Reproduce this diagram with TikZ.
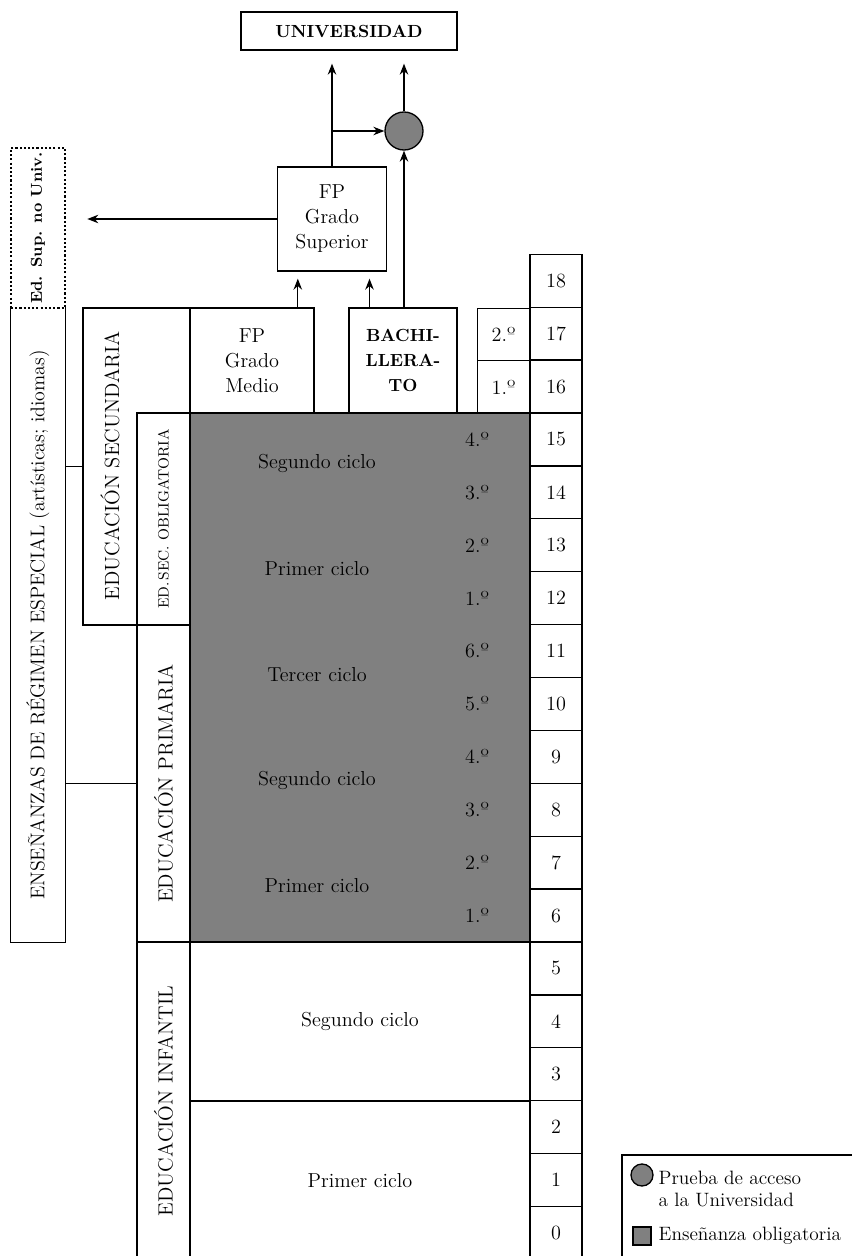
\documentclass[tikz,border=0pt]{standalone}
\usepackage{tikz}
\usetikzlibrary{arrows.meta,positioning,calc}

\begin{document}
\begin{tikzpicture}[x=0.2mm,y=-0.2mm,line width=0.75pt]
        \tikzstyle{every node}=[font=\fontsize{11.5}{14.2}\selectfont]
        \tikzstyle{box}=[draw,inner sep=0pt,align=center]
        \tikzstyle{caps}=[font=\fontsize{11.7}{14}\selectfont]
        \tikzstyle{heavy}=[font=\bfseries\fontsize{10}{14.2}\selectfont]
        \tikzstyle{arr}=[-{Stealth[length=2.2mm,width=1.7mm]}]
        \useasboundingbox (0,0) rectangle (851,1256);

        %%% Universidad
        \node[box,heavy,minimum width=43.2mm,minimum height=7.6mm] (univ) at (349,31) {UNIVERSIDAD};
        \node[circle,draw,fill=gray,minimum size=7.6mm,inner sep=0pt] (prueba) at (404,131) {};
        \node[box,minimum width=21.8mm,minimum height=20.8mm] (fpgs) at (332,219) {FP\\Grado\\Superior};

        %%% Left column
        \node[box,dash pattern=on 1.2pt off 1.2pt,minimum width=10.8mm,minimum height=32mm,font=\bfseries\fontsize{9}{12}\selectfont] (edsup) at (38,228) {\rotatebox{90}{Ed. Sup. no Univ.}};
        \node[inner sep=0pt,font=\fontsize{11.3}{14}\selectfont,minimum width=10.8mm,minimum height=126.8mm] (ense) at (38,625) {\rotatebox{90}{ENSEÑANZAS DE RÉGIMEN ESPECIAL (artísticas; idiomas)}};
        \draw (ense.north west) -- (ense.south west) -- (ense.south east) -- (ense.north east);

        \node[box,minimum width=21.4mm,minimum height=63.4mm] (secu) at (136.5,466.5) {};
        \node[inner sep=0pt,caps] (secutxt) at (110,466) {\rotatebox{90}{EDUCACIÓN SECUNDARIA}};
        \node[box,minimum width=10.6mm,minimum height=42.4mm,font=\fontsize{8.5}{10}\selectfont] (eso) at (163.5,519) {\rotatebox{90}{ED.\,SEC. OBLIGATORIA}};
        \node[box,caps,minimum width=10.6mm,minimum height=63.4mm] (prim) at (163.5,783.5) {\rotatebox{90}{EDUCACIÓN PRIMARIA}};
        \node[box,caps,minimum width=10.6mm,minimum height=63.6mm] (infa) at (163.5,1101) {\rotatebox{90}{EDUCACIÓN INFANTIL}};

        %%% Compulsory block
        \node[box,fill=gray,minimum width=68mm,minimum height=105.8mm] (oblig) at (360,677.5) {};
        \node (esoc2) at (317,463) {Segundo ciclo};
        \node (esoc1) at (317,569) {Primer ciclo};
        \node (primc3) at (317,675) {Tercer ciclo};
        \node (primc2) at (317,780) {Segundo ciclo};
        \node (primc1) at (317,886) {Primer ciclo};
        \foreach \c/\a in {1/12,2/13,3/14,4/15,1/6,2/7,3/8,4/9,5/10,6/11}
            \node (curso\a) at (477,{1259.4-(\a+0.5)*52.9}) {\c.º};

        %%% Post-compulsory
        \node[box,minimum width=24.8mm,minimum height=21mm] (fpgm) at (252,360.5) {FP\\Grado\\Medio};
        \node[box,heavy,minimum width=21.6mm,minimum height=21mm] (bach) at (403,360.5) {BACHI-\\LLERA-\\TO};
        \node[box,minimum size=10.5mm] (bach2) at (503.5,334.5) {2.º};
        \node[box,minimum size=10.5mm] (bach1) at (503.5,387) {1.º};

        %%% Infantil
        \node[box,minimum width=68mm,minimum height=31.8mm] (inf2) at (360,1021.5) {Segundo ciclo};
        \node[box,minimum width=68mm,minimum height=31.8mm] (inf1) at (360,1180.5) {Primer ciclo};

        %%% Ages
        \foreach \a in {0,...,18}
            \node[box,minimum width=10.4mm,minimum height=10.58mm] (age\a) at (556,{1259.4-(\a+0.5)*52.9}) {\a};

        %%% Arrows
        \draw[arr,shorten >=2.6mm] (fpgs.north) -- (fpgs.north |- univ.south);
        \draw[arr,shorten >=2.6mm] (prueba.north) -- (prueba.north |- univ.south);
        \draw[arr] (fpgs.north |- prueba.west) -- (prueba.west);
        \draw[arr] (prueba.south |- bach.north) -- (prueba.south);
        \draw[arr,shorten >=1mm] (fpgs.west) -- (fpgs.west -| secu.west);
        \coordinate (gsin1) at ($(fpgs.south west)!0.19!(fpgs.south east)$);
        \coordinate (gsin2) at ($(fpgs.south west)!0.84!(fpgs.south east)$);
        \draw[arr,shorten >=1.4mm] (gsin1 |- fpgm.north) -- (gsin1);
        \draw[arr,shorten >=1.4mm] (gsin2 |- bach.north) -- (gsin2);
        \draw (secu.west) -- (secu.west -| ense.east);
        \draw (prim.west) -- (prim.west -| ense.east);

        %%% Legend
        \node[box,minimum width=49.6mm,minimum height=25mm] (legend) at (746,1217.5) {};
        \node[circle,draw,fill=gray,minimum size=4.4mm,inner sep=0pt] (legcirc) at (642,1175) {};
        \node[anchor=west,align=left,inner sep=0pt,font=\fontsize{11}{13}\selectfont] (legcirctxt) at (658,1189) {Prueba de acceso\\a la Universidad};
        \node[draw,fill=gray,minimum size=3.6mm,inner sep=0pt] (legsq) at (642,1236) {};
        \node[anchor=west,inner sep=0pt,font=\fontsize{11}{13}\selectfont] (legsqtxt) at (658,1236) {Enseñanza obligatoria};
\end{tikzpicture}
\end{document}
